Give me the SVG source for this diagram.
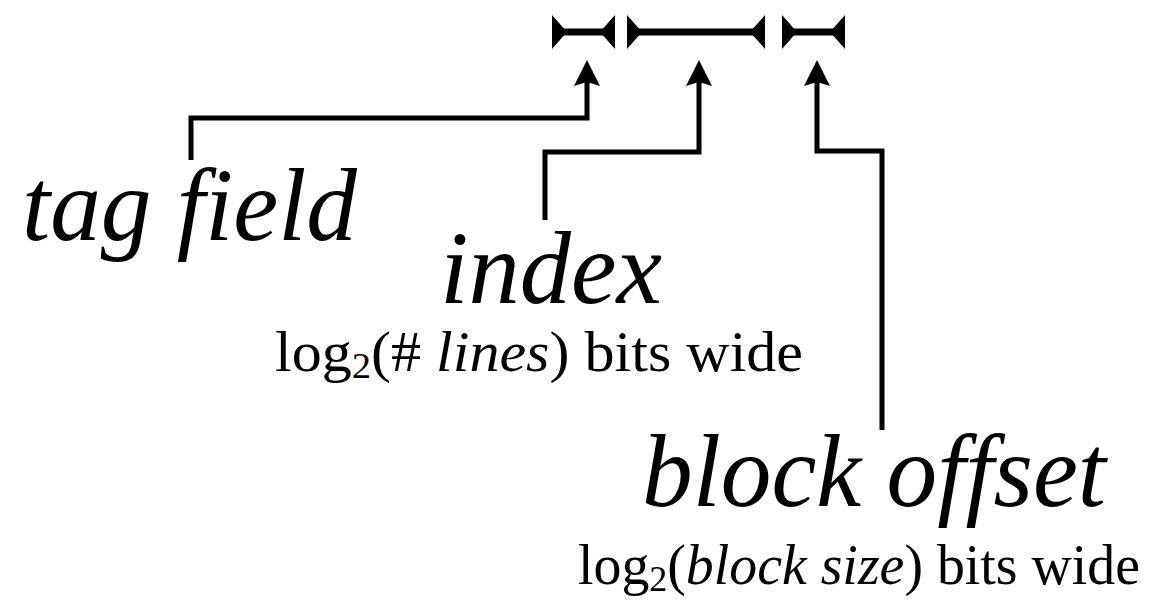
<svg xmlns="http://www.w3.org/2000/svg" width="1163" height="600" viewBox="0 0 1163 600">
  <style>
    .bar { stroke: #000; stroke-width: 7; fill: none; }
    .cap { fill: #000; stroke: none; }
    .wire { stroke: #000; stroke-width: 5; fill: none; stroke-linejoin: miter; stroke-linecap: butt; }
    .head { fill: #000; stroke: none; }
    .label { font-family: "Liberation Serif", "Times New Roman", serif; fill: #000; }
    .big { font-size: 104px; font-style: italic; }
    .note { font-size: 56px; }
    .it { font-style: italic; }
    .sub { font-size: 36px; }
  </style>

  <!-- address field extents -->
  <g id="field-tag">
    <line class="bar" x1="553" y1="32" x2="614" y2="32"/>
    <polygon class="cap" points="552,15 552,49 567,32"/>
    <polygon class="cap" points="615,15 615,49 600,32"/>
  </g>
  <g id="field-index">
    <line class="bar" x1="628" y1="32" x2="764" y2="32"/>
    <polygon class="cap" points="627,15 627,49 642,32"/>
    <polygon class="cap" points="765,15 765,49 750,32"/>
  </g>
  <g id="field-offset">
    <line class="bar" x1="783" y1="32" x2="844" y2="32"/>
    <polygon class="cap" points="782,15 782,49 797,32"/>
    <polygon class="cap" points="845,15 845,49 830,32"/>
  </g>

  <!-- leader lines from labels up to the fields -->
  <g id="connectors">
    <path class="wire" d="M191,160 V118 H587 V80"/>
    <polygon class="head" points="587,60 600,86 587,82 574,86"/>
    <path class="wire" d="M545,220 V152 H699 V80"/>
    <polygon class="head" points="699,60 712,86 699,82 686,86"/>
    <path class="wire" d="M882,430 V151 H817 V80"/>
    <polygon class="head" points="817,60 830,86 817,82 804,86"/>
  </g>

  <g id="label-tag">
    <text class="label big" x="22" y="240" textLength="335" lengthAdjust="spacingAndGlyphs">tag field</text>
  </g>
  <g id="label-index">
    <text class="label big" x="440" y="303" textLength="222" lengthAdjust="spacingAndGlyphs">index</text>
    <text class="label note" x="275" y="371" textLength="528" lengthAdjust="spacingAndGlyphs">log<tspan class="sub" dy="7">2</tspan><tspan dy="-7">(# </tspan><tspan class="it">lines</tspan>) bits wide</text>
  </g>
  <g id="label-offset">
    <text class="label big" x="642" y="506" textLength="464" lengthAdjust="spacingAndGlyphs">block offset</text>
    <text class="label note" x="578" y="584" textLength="562" lengthAdjust="spacingAndGlyphs">log<tspan class="sub" dy="7">2</tspan><tspan dy="-7">(</tspan><tspan class="it">block size</tspan>) bits wide</text>
  </g>
</svg>
